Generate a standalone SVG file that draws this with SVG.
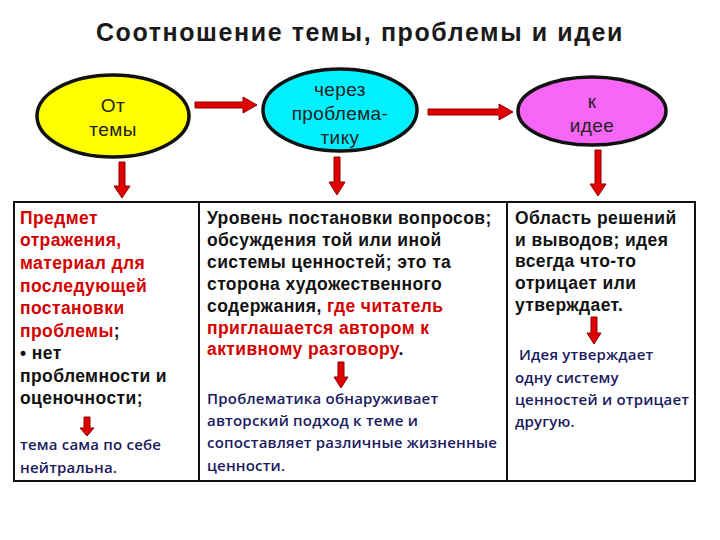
<svg xmlns="http://www.w3.org/2000/svg" width="720" height="540" viewBox="0 0 720 540">
<style>
.title{font-family:"Liberation Sans",Arial,sans-serif;font-size:25px;font-weight:bold;fill:#1a1a1a;letter-spacing:1.6px}
.el{stroke:#111;stroke-width:3.5}
.et{font-family:"Liberation Sans",Arial,sans-serif;font-size:19px;fill:#222;text-anchor:middle;letter-spacing:0.4px}
.bx{fill:#fff;stroke:#111;stroke-width:2}
.bt{font-family:"Liberation Sans",Arial,sans-serif;font-size:17.5px;font-weight:bold;fill:#111;letter-spacing:0.4px}
.red{fill:#d40000}
.nt{font-family:"Open Sans","Noto Sans",sans-serif;font-size:15px;font-weight:600;fill:#1a1a5e;letter-spacing:0.2px}
.ar{fill:#e00000;stroke:#8a0000;stroke-width:1}
</style>
<rect width="720" height="540" fill="#fff"/>
<text class="title" x="360" y="41" text-anchor="middle">Соотношение темы, проблемы и идеи</text>

<g id="node-tema">
<ellipse class="el" cx="113" cy="116" rx="76" ry="41" fill="#ffff00"/>
<text class="et" x="113" y="112">От</text>
<text class="et" x="113" y="136">темы</text>
</g>
<g id="node-problematika">
<ellipse class="el" cx="340" cy="110" rx="77" ry="41" fill="#00f0ff"/>
<text class="et" x="340" y="96">через</text>
<text class="et" x="340" y="120">проблема-</text>
<text class="et" x="340" y="144">тику</text>
</g>
<g id="node-ideya">
<ellipse class="el" cx="592" cy="111" rx="74" ry="34" fill="#f766f7"/>
<text class="et" x="592" y="108">к</text>
<text class="et" x="592" y="132">идее</text>
</g>

<g id="box-tema">
<rect class="bx" x="14" y="202" width="185" height="279"/>
<text class="bt" x="20">
<tspan class="red" x="20" y="224">Предмет</tspan>
<tspan class="red" x="20" y="246">отражения,</tspan>
<tspan class="red" x="20" y="269">материал для</tspan>
<tspan class="red" x="20" y="292">последующей</tspan>
<tspan class="red" x="20" y="314">постановки</tspan>
<tspan x="20" y="337"><tspan class="red">проблемы</tspan>;</tspan>
<tspan x="20" y="359">• нет</tspan>
<tspan x="20" y="382">проблемности и</tspan>
<tspan x="20" y="404">оценочности;</tspan>
</text>
<text class="nt" x="20">
<tspan x="20" y="450">тема сама по себе</tspan>
<tspan x="20" y="473">нейтральна.</tspan>
</text>
</g>

<g id="box-problematika">
<rect class="bx" x="199" y="202" width="308" height="279"/>
<text class="bt" x="207">
<tspan x="207" y="224">Уровень постановки вопросов;</tspan>
<tspan x="207" y="246">обсуждения той или иной</tspan>
<tspan x="207" y="268">системы ценностей; это та</tspan>
<tspan x="207" y="290">сторона художественного</tspan>
<tspan x="207" y="312">содержания, <tspan class="red">где читатель</tspan></tspan>
<tspan class="red" x="207" y="334">приглашается автором к</tspan>
<tspan x="207" y="355"><tspan class="red">активному разговору</tspan>.</tspan>
</text>
<text class="nt" x="207">
<tspan x="207" y="404">Проблематика обнаруживает</tspan>
<tspan x="207" y="426">авторский подход к теме и</tspan>
<tspan x="207" y="448">сопоставляет различные жизненные</tspan>
<tspan x="207" y="471">ценности.</tspan>
</text>
</g>

<g id="box-ideya">
<rect class="bx" x="507" y="202" width="188" height="279"/>
<text class="bt" x="515">
<tspan x="515" y="224">Область решений</tspan>
<tspan x="515" y="246">и выводов; идея</tspan>
<tspan x="515" y="267">всегда что-то</tspan>
<tspan x="515" y="289">отрицает или</tspan>
<tspan x="515" y="311">утверждает.</tspan>
</text>
<text class="nt" x="515">
<tspan x="519" y="360">Идея утверждает</tspan>
<tspan x="515" y="383">одну систему</tspan>
<tspan x="515" y="405">ценностей и отрицает</tspan>
<tspan x="515" y="427">другую.</tspan>
</text>
</g>

<g id="connectors">
<path class="ar" d="M195,102 H243 V97 L257,105 L243,113 V108 H195 Z"/>
<path class="ar" d="M428,109 H499 V104 L513,112 L499,120 V115 H428 Z"/>
<path class="ar" d="M119,162 V186 H114 L122,198 L130,186 H125 V162 Z"/>
<path class="ar" d="M334,157 V182 H329 L337,195 L345,182 H340 V157 Z"/>
<path class="ar" d="M595,150 V184 H590 L598,196 L606,184 H601 V150 Z"/>
<path class="ar" d="M84,417 V428 H80 L87,436 L94,428 H90 V417 Z"/>
<path class="ar" d="M338,362 V377 H334 L341,388 L348,377 H344 V362 Z"/>
<path class="ar" d="M591,317 V333 H587 L594,344 L601,333 H597 V317 Z"/>
</g>
</svg>
